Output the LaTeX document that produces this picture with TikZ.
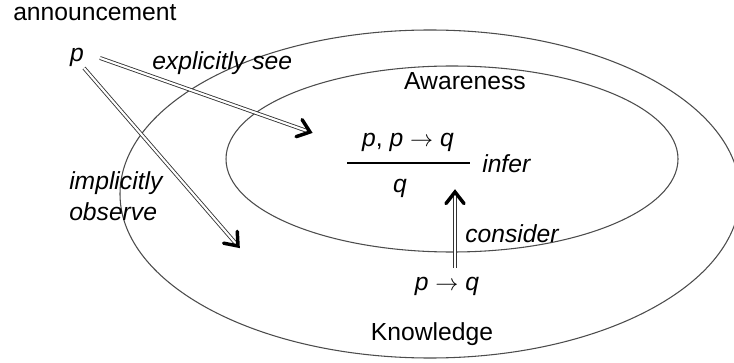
\documentclass[tikz,border=0pt]{standalone}
\usepackage{fontspec}
\setmainfont{Liberation Sans}
\usetikzlibrary{calc}
\newcommand{\impto}{\ $\rightarrow$\ }
\begin{document}
\begin{tikzpicture}[x=0.75pt,y=-0.75pt,
  lbl/.style={inner sep=0pt, font=\fontsize{18.5}{22}\selectfont},
  ilbl/.style={inner sep=0pt, font=\fontsize{18.5}{22}\selectfont\itshape},
  ring/.style={draw=black!70, line width=0.8pt},
  dbl/.style={draw=black!80, double=white, line width=0.65pt, double distance=1.6pt, shorten >=3pt},
  chev/.style={draw=black, line width=2.6pt, line cap=round, line join=miter}]
\useasboundingbox (0,0) rectangle (734,363);
\clip (0,0) rectangle (734,363);
% ellipses
\draw[ring] (430,194) ellipse [x radius=310, y radius=164];
\draw[ring] (452,159) ellipse [x radius=226, y radius=93];
% labels
\node[lbl, anchor=base west] (ann) at (13,21) {announcement};
\node[ilbl, anchor=base] (p) at (77,62) {p};
\node[ilbl, anchor=base west] (see) at (152,70) {explicitly see};
\node[ilbl, anchor=base west] (impl) at (69,190) {implicitly};
\node[ilbl, anchor=base west] (obs) at (69,220) {observe};
\node[lbl, anchor=base] (aw) at (465,90) {Awareness};
\node[lbl, anchor=base] (prem) at (408,147) {\textit{p}, \textit{p}\impto\textit{q}};
\node[ilbl, anchor=base] (concl) at (400,193) {q};
\node[ilbl, anchor=base west] (infer) at (482,173) {infer};
\node[ilbl, anchor=base west] (cons) at (465,243) {consider};
\node[lbl, anchor=base] (imp) at (447,290) {\textit{p}\impto\textit{q}};
\node[lbl, anchor=base] (kn) at (432,340) {Knowledge};
% fraction bar
\coordinate (fbl) at (347,163);
\coordinate (fbr) at (470,163);
\draw[black, line width=0.8pt] (fbl) -- (fbr);
% arrows
\coordinate (a1s) at (100,58);
\coordinate (a1e) at (310,132);
\coordinate (a2s) at (84,68);
\coordinate (a2e) at (238,246);
\coordinate (a3s) at (455,268);
\coordinate (a3e) at (455,192);
\draw[dbl] (a1s) -- (a1e);
\draw[dbl] (a2s) -- (a2e);
\draw[dbl] (a3s) -- (a3e);
\draw[chev] ($(a1e)!11pt!38:(a1s)$) -- (a1e) -- ($(a1e)!11pt!-38:(a1s)$);
\draw[chev] ($(a2e)!11pt!38:(a2s)$) -- (a2e) -- ($(a2e)!11pt!-38:(a2s)$);
\draw[chev] ($(a3e)!11pt!38:(a3s)$) -- (a3e) -- ($(a3e)!11pt!-38:(a3s)$);
\end{tikzpicture}
\end{document}
